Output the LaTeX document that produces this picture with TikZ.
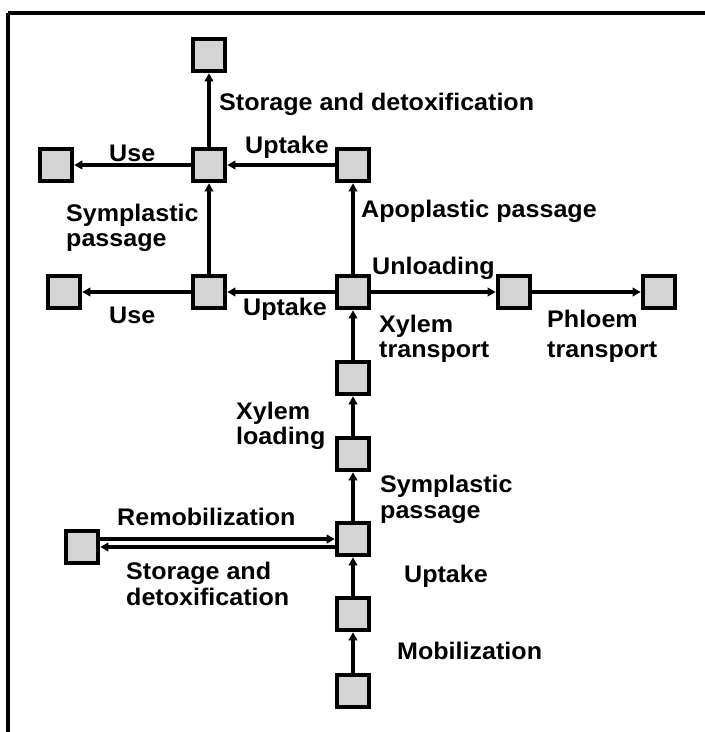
\documentclass[tikz,border=0pt]{standalone}
\usepackage{fontspec}
\setmainfont{Liberation Sans}[FakeStretch=1.045]
\usetikzlibrary{arrows.meta}
\begin{document}
\begin{tikzpicture}[x=1pt,y=-1pt,
  cell/.style={draw=black,line width=4.6pt,fill=black!17,minimum size=32pt,inner sep=0pt},
  arr/.style={line width=3.2pt,-{Triangle[length=8pt,width=8.5pt]}},
  lbl/.style={anchor=base west,inner sep=0pt,font=\fontsize{24}{28}\selectfont\bfseries}]
  \useasboundingbox (0,0) rectangle (705,732);
  % frame edges (top and left only)
  \draw[line width=3.4pt] (8,13) -- (705,13);
  \draw[line width=3.4pt] (8,13) -- (8,732);

  % compartments
  \node[cell] (top)  at (209,55)  {};
  \node[cell] (use1) at (56,165)  {};
  \node[cell] (sym1) at (209,165) {};
  \node[cell] (apo)  at (353,165) {};
  \node[cell] (use2) at (64,292)  {};
  \node[cell] (sym2) at (209,292) {};
  \node[cell] (hub)  at (353,292) {};
  \node[cell] (ph1)  at (514,292) {};
  \node[cell] (ph2)  at (659,292) {};
  \node[cell] (xt)   at (353,378) {};
  \node[cell] (xl)   at (353,454) {};
  \node[cell] (sp)   at (353,539) {};
  \node[cell] (up)   at (353,614) {};
  \node[cell] (src)  at (353,691) {};
  \node[cell] (rem)  at (82,547)  {};

  % fluxes
  \draw[arr] (sym1) -- (top);
  \draw[arr] (sym1) -- (use1);
  \draw[arr] (apo) -- (sym1);
  \draw[arr] (sym2) -- (sym1);
  \draw[arr] (sym2) -- (use2);
  \draw[arr] (hub) -- (sym2);
  \draw[arr] (hub) -- (apo);
  \draw[arr] (hub) -- (ph1);
  \draw[arr] (ph1) -- (ph2);
  \draw[arr] (xt) -- (hub);
  \draw[arr] (xl) -- (xt);
  \draw[arr] (sp) -- (xl);
  \draw[arr] (up) -- (sp);
  \draw[arr] (src) -- (up);
  \draw[arr] (rem.east |- sp) -- (sp.west);
  \draw[arr] (sp.west |- rem) -- (rem.east);

  % labels
  \node[lbl] (l1)  at (219,110) {Storage and detoxification};
  \node[lbl] (l2)  at (109,161) {Use};
  \node[lbl] (l3)  at (245,153) {Uptake};
  \node[lbl] (l4a) at (66,221)  {Symplastic};
  \node[lbl] (l4b) at (66,246)  {passage};
  \node[lbl] (l5)  at (109,323) {Use};
  \node[lbl] (l6)  at (243,315) {Uptake};
  \node[lbl] (l7)  at (361,217) {Apoplastic passage};
  \node[lbl] (l8)  at (372,274) {Unloading};
  \node[lbl] (l9a) at (379,332) {Xylem};
  \node[lbl] (l9b) at (379,357) {transport};
  \node[lbl] (l10a) at (547,327) {Phloem};
  \node[lbl] (l10b) at (547,357) {transport};
  \node[lbl] (l11a) at (236,419) {Xylem};
  \node[lbl] (l11b) at (236,444) {loading};
  \node[lbl] (l12a) at (380,492) {Symplastic};
  \node[lbl] (l12b) at (380,518) {passage};
  \node[lbl] (l13) at (404,582) {Uptake};
  \node[lbl] (l14) at (397,659) {Mobilization};
  \node[lbl] (l15) at (117,525) {Remobilization};
  \node[lbl] (l16a) at (126,579) {Storage and};
  \node[lbl] (l16b) at (126,605) {detoxification};
\end{tikzpicture}
\end{document}
